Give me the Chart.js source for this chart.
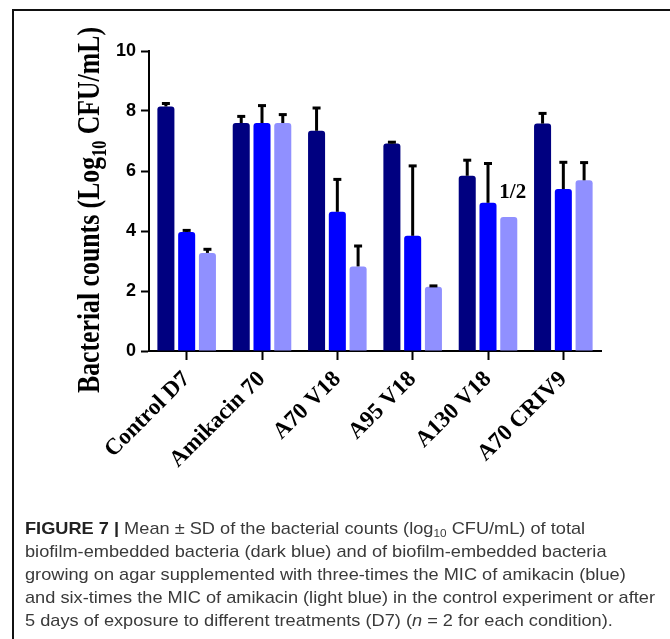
<!DOCTYPE html>
<html>
<head>
<meta charset="utf-8">
<script src="https://cdn.jsdelivr.net/npm/chart.js@4.4.0/dist/chart.umd.min.js"></script>
<style>
  html, body { margin: 0; padding: 0; background: #fff; }
  #wrap { position: relative; width: 670px; height: 639px; overflow: hidden; }
  #frame { position: absolute; left: 12px; top: 9px; width: 700px; height: 700px;
           border-left: 2px solid #111; border-top: 2px solid #111; }
  #c { position: absolute; left: 0; top: 0; }
  #caption { position: absolute; left: 25px; top: 517px; transform-origin: 0 0;
             font-family: "Liberation Sans", Arial, sans-serif; font-size: 17px;
             line-height: 23px; color: #3a3a3a; white-space: nowrap; }
  #caption b { color: #222; }
  #caption sub { font-size: 11px; line-height: 0; vertical-align: -3px; }
</style>
</head>
<body>
<div id="wrap">
  <div id="frame"></div>
  <canvas id="c" width="670" height="639"></canvas>
  <div id="caption">
    <div><b>FIGURE 7 |</b> Mean ± SD of the bacterial counts (log<sub>10</sub> CFU/mL) of total</div>
    <div>biofilm-embedded bacteria (dark blue) and of biofilm-embedded bacteria</div>
    <div>growing on agar supplemented with three-times the MIC of amikacin (blue)</div>
    <div id="longLine">and six-times the MIC of amikacin (light blue) in the control experiment or after</div>
    <div>5 days of exposure to different treatments (D7) (<i>n</i> = 2 for each condition).</div>
  </div>
</div>
<script>
// Conditions on the x axis
const categories = ['Control D7', 'Amikacin 70', 'A70 V18', 'A95 V18', 'A130 V18', 'A70 CRIV9'];

// Total biofilm-embedded bacteria (log10 CFU/mL): mean and SD
const totalMean = [8.15, 7.60, 7.34, 6.92, 5.84, 7.58];
const totalSD   = [0.10, 0.22, 0.76, 0.04, 0.52, 0.34];

// Growth on agar with 3x MIC of amikacin
const mic3Mean = [3.97, 7.60, 4.64, 3.84, 4.94, 5.40];
const mic3SD   = [0.05, 0.58, 1.08, 2.33, 1.31, 0.89];

// Growth on agar with 6x MIC of amikacin
const mic6Mean = [3.27, 7.60, 2.82, 2.14, 4.47, 5.69];
const mic6SD   = [0.12, 0.28, 0.68, 0.03, null, 0.59];

// Y axis ticks
const yTicks = [0, 2, 4, 6, 8, 10];

// Note placed above one bar: [dataset index, category index, text]
const barNote = [2, 4, '1/2'];

const colors = ['#000080', '#0000ff', '#9090ff'];

// Upward-only SD whiskers with a cap
const errorBars = {
  id: 'errorBars',
  afterDatasetsDraw(chart) {
    const { ctx, scales: { y } } = chart;
    ctx.save();
    ctx.strokeStyle = '#000';
    chart.data.datasets.forEach((ds, di) => {
      const meta = chart.getDatasetMeta(di);
      meta.data.forEach((bar, i) => {
        const sd = ds.sd[i];
        if (sd == null) return;
        const yTop = y.getPixelForValue(ds.data[i] + sd);
        const yBase = y.getPixelForValue(ds.data[i]);
        ctx.lineWidth = 3;
        ctx.beginPath();
        ctx.moveTo(bar.x, yBase);
        ctx.lineTo(bar.x, yTop);
        ctx.stroke();
        ctx.beginPath();
        ctx.moveTo(bar.x - 4, yTop);
        ctx.lineTo(bar.x + 4, yTop);
        ctx.stroke();
      });
    });
    ctx.restore();
  }
};

// Note text over a bar
const noteLabel = {
  id: 'noteLabel',
  afterDatasetsDraw(chart) {
    const [di, ci, text] = barNote;
    const bar = chart.getDatasetMeta(di).data[ci];
    const { ctx } = chart;
    ctx.save();
    ctx.font = 'bold 21px "Liberation Serif", "Times New Roman", serif';
    ctx.fillStyle = '#000';
    ctx.textAlign = 'center';
    ctx.textBaseline = 'alphabetic';
    ctx.fillText(text, bar.x + 4, bar.y - 19);
    ctx.restore();
  }
};

// Rotated y-axis title with a subscript
const yTitle = {
  id: 'yTitle',
  afterDraw(chart) {
    const { ctx } = chart;
    const big = 'bold 32px "Liberation Serif", "Times New Roman", serif';
    const small = 'bold 20px "Liberation Serif", "Times New Roman", serif';
    const parts = [
      ['Bacterial counts (Log', big, 0],
      ['10', small, 7],
      [' CFU/mL)', big, 0]
    ];
    ctx.save();
    let total = 0;
    const widths = parts.map(p => { ctx.font = p[1]; const w = ctx.measureText(p[0]).width; total += w; return w; });
    const targetLen = 366;
    ctx.translate(99, 210);
    ctx.rotate(-Math.PI / 2);
    ctx.scale(targetLen / total, 1);
    ctx.fillStyle = '#000';
    ctx.textBaseline = 'alphabetic';
    ctx.textAlign = 'left';
    let x = -total / 2;
    parts.forEach((p, k) => {
      ctx.font = p[1];
      ctx.fillText(p[0], x, p[2]);
      x += widths[k];
    });
    ctx.restore();
  }
};

const makeSet = (label, data, sd, color) => ({
  label, data, sd,
  backgroundColor: color,
  borderWidth: 0,
  borderRadius: 3,
  categoryPercentage: 0.827,
  barPercentage: 0.82
});

new Chart(document.getElementById('c'), {
  type: 'bar',
  data: {
    labels: categories,
    datasets: [
      makeSet('Total', totalMean, totalSD, colors[0]),
      makeSet('3x MIC', mic3Mean, mic3SD, colors[1]),
      makeSet('6x MIC', mic6Mean, mic6SD, colors[2])
    ]
  },
  options: {
    responsive: false,
    animation: false,
    layout: { padding: { left: 0, right: 69, top: 51, bottom: 0 } },
    plugins: { legend: { display: false }, tooltip: { enabled: false } },
    scales: {
      x: {
        offset: true,
        grid: { display: true, offset: false, drawOnChartArea: false, tickLength: 9, tickWidth: 2, tickColor: '#000' },
        border: { display: true, color: '#000', width: 2 },
        ticks: {
          autoSkip: false, maxRotation: 45, minRotation: 45, padding: 6,
          color: '#000',
          font: { family: '"Liberation Serif", "Times New Roman", serif', weight: 'bold', size: 23 }
        },
        afterFit(s) { s.height = 288; }
      },
      y: {
        min: 0, max: 10,
        afterBuildTicks(s) { s.ticks = yTicks.map(v => ({ value: v })); },
        grid: { display: true, drawOnChartArea: false, tickLength: 8, tickWidth: 2, tickColor: '#000' },
        border: { display: true, color: '#000', width: 2 },
        ticks: {
          padding: 5, color: '#000',
          font: { family: '"Liberation Sans", Arial, sans-serif', weight: 'bold', size: 18 }
        },
        afterFit(s) { s.width = 149; }
      }
    }
  },
  plugins: [errorBars, noteLabel, yTitle]
});

// Fit the caption block to its column width
const cap = document.getElementById('caption');
const lw = document.getElementById('longLine').getBoundingClientRect().width;
cap.style.transform = 'scaleX(' + (630 / lw) + ')';
</script>
</body>
</html>
